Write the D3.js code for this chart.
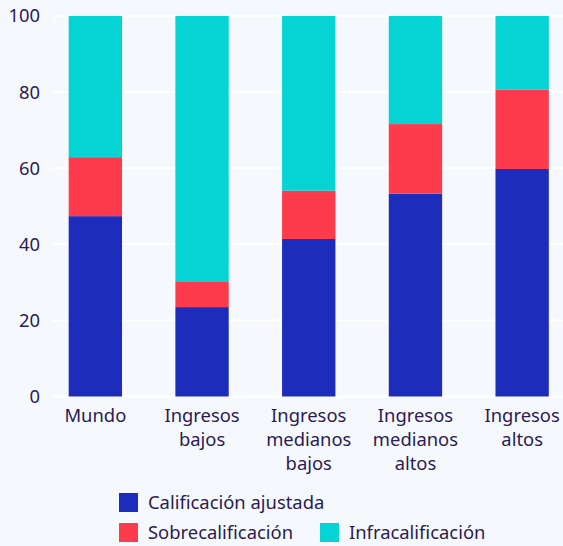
<!DOCTYPE html>
<html><head><meta charset="utf-8">
<script src="https://cdn.jsdelivr.net/npm/d3@7"></script>
<style>
html,body{margin:0;padding:0;background:#f5f9fd;}
svg{display:block;font-family:"Noto Sans",sans-serif;}
</style></head>
<body>
<script>
const categories = [["Mundo"],["Ingresos","bajos"],["Ingresos","medianos","bajos"],["Ingresos","medianos","altos"],["Ingresos","altos"]];
const seriesNames = ["Calificación ajustada","Sobrecalificación","Infracalificación"];
const ajustada = [47.4, 23.5, 41.4, 53.3, 59.8];
const sobre = [15.5, 6.6, 12.7, 18.3, 20.9];
const infra = [37.1, 69.9, 45.9, 28.4, 19.3];
const yTicks = [0,20,40,60,80,100];
const colors = ["#1e2cbb","#fd3b4c","#06d3d3"];

const W=563,H=546,FS=18.4;
const svg=d3.select("body").append("svg").attr("width",W).attr("height",H);
svg.append("rect").attr("width",W).attr("height",H).attr("fill","#f5f9fd");

const x=d3.scaleBand().domain(d3.range(categories.length)).range([42,575.5]).paddingInner(0.5).paddingOuter(0.25);
const y=d3.scaleLinear().domain([0,100]).range([396.5,16]);

const textColor="#2c1a55";
// grid
svg.append("g").selectAll("line").data(yTicks).join("line")
  .attr("x1",52).attr("x2",W).attr("y1",d=>y(d)).attr("y2",d=>y(d))
  .attr("stroke","#ffffff").attr("stroke-width",2);
// y labels
svg.append("g").selectAll("text").data(yTicks).join("text")
  .attr("x",40).attr("y",d=>y(d)).attr("dy","0.35em").attr("text-anchor","end")
  .attr("font-size",FS).attr("fill",textColor).text(d=>d);

const table=categories.map((c,i)=>({i,a:ajustada[i],s:sobre[i],f:infra[i]}));
const stack=d3.stack().keys(["a","s","f"])(table);
svg.append("g").selectAll("g").data(stack).join("g").attr("fill",(d,k)=>colors[k])
  .selectAll("rect").data(d=>d).join("rect")
  .attr("x",d=>x(d.data.i)).attr("width",x.bandwidth())
  .attr("y",d=>y(d[1])).attr("height",d=>y(d[0])-y(d[1]));

// x labels
const xl=svg.append("g").selectAll("text").data(categories).join("text")
  .attr("x",(d,i)=>x(i)+x.bandwidth()/2).attr("y",416)
  .attr("text-anchor","middle").attr("font-size",FS).attr("fill",textColor);
xl.each(function(d,i){
  d3.select(this).selectAll("tspan").data(d).join("tspan")
    .attr("x",x(i)+x.bandwidth()/2).attr("dy",(t,j)=>j===0?"0.35em":24).text(t=>t);
});

// legend
const legendItems=[{k:0,x:119,y:493},{k:1,x:119,y:523},{k:2,x:320,y:523}];
const lg=svg.append("g").selectAll("g").data(legendItems).join("g");
lg.append("rect").attr("x",d=>d.x).attr("y",d=>d.y).attr("width",19).attr("height",19).attr("fill",d=>colors[d.k]);
lg.append("text").attr("x",d=>d.x+29).attr("y",d=>d.y+9.5).attr("dy","0.35em")
  .attr("font-size",FS).attr("fill",textColor).text(d=>seriesNames[d.k]);
</script>
</body></html>
